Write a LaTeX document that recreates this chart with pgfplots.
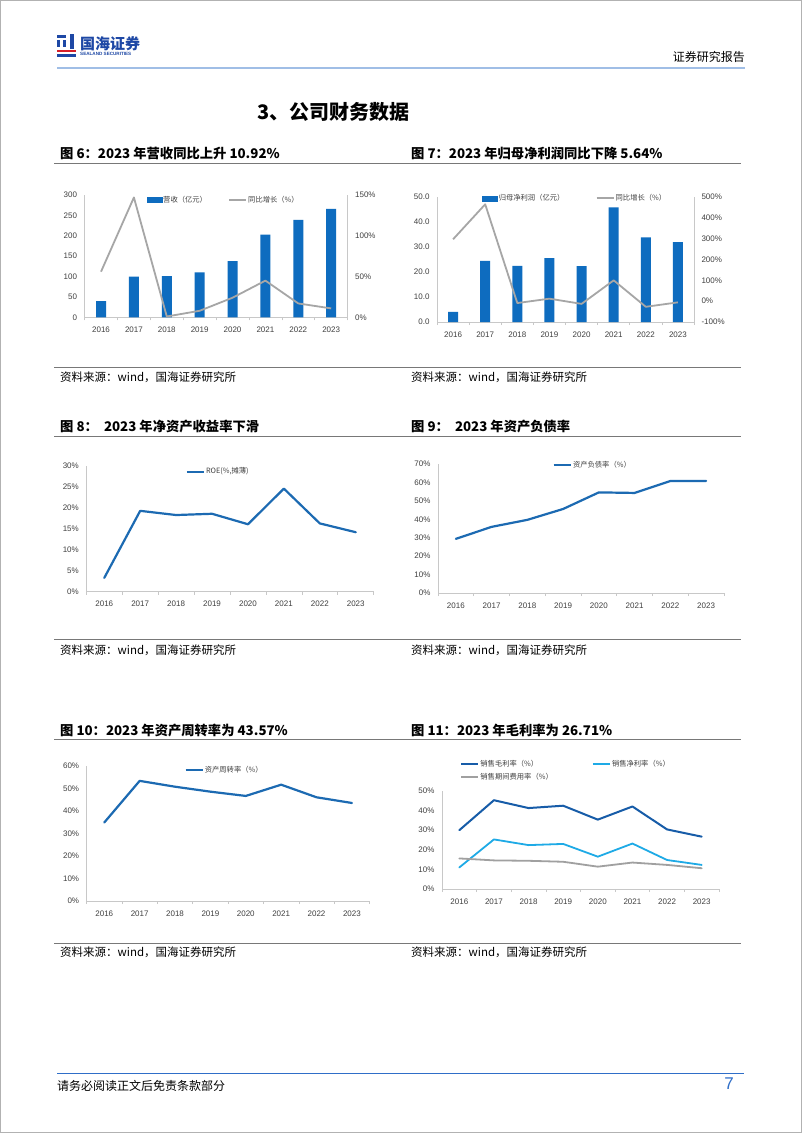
\documentclass[border=0pt]{standalone}
\usepackage{pgfplots}
\pgfplotsset{compat=1.18}
\usepackage{fontspec}
\setmainfont{Liberation Sans}
\newfontfamily\cjk{Noto Sans CJK SC}
\definecolor{barblue}{RGB}{14,108,191}
\definecolor{growthgrey}{RGB}{166,166,166}
\definecolor{lineblue}{RGB}{28,106,178}
\definecolor{grossblue}{RGB}{23,92,168}
\definecolor{netblue}{RGB}{30,170,230}
\definecolor{expgrey}{RGB}{160,160,160}
\definecolor{axisgray}{RGB}{200,200,200}
\definecolor{ticktext}{RGB}{64,64,64}
\definecolor{rulegray}{RGB}{120,120,120}
\definecolor{headerblue}{RGB}{160,190,230}
\definecolor{footblue}{RGB}{47,110,200}
\definecolor{logoblue}{RGB}{30,72,165}
\definecolor{logored}{RGB}{215,30,40}
\pgfplotsset{
  pagechart/.style={
    scale only axis, anchor=south west,
    xmin=-0.5, xmax=7.5,
    xtick={0,1,2,3,4,5,6,7},
    xticklabels={2016,2017,2018,2019,2020,2021,2022,2023},
    tick align=outside, major tick length=0pt, minor tick length=3pt,
    every tick/.style={axisgray, line width=0.6pt},
    axis line style={axisgray, line width=0.8pt},
    axis x line*=bottom, axis y line*=left,
    ytick style={draw=none},
    font=\fontsize{8}{9.5}\selectfont,
    ticklabel style={text=ticktext},
    xticklabel style={yshift=-6pt},
    yticklabel style={xshift=-4pt},
    /pgf/number format/assume math mode=true,
    /pgf/number format/1000 sep={},
    legend style={draw=none, fill=none, inner sep=0pt, font=\cjk\fontsize{7.3}{8}\selectfont, text=ticktext, cells={anchor=west}, nodes={inner sep=1.2pt}},
    legend image code/.code={\draw[#1, line cap=butt] (0pt,0pt) -- (17pt,0pt);},
  },
  rightaxis/.style={axis x line=none, axis y line*=right, xtick=\empty, yticklabel style={xshift=8pt}},
  catticks/.style={minor xtick={-0.5,0.5,1.5,2.5,3.5,4.5,5.5,6.5,7.5}},
  pct/.style={yticklabel={\pgfmathprintnumber{\tick}\%}},
  barleg/.style={legend image code/.code={\fill[barblue] (0pt,-2.5pt) rectangle (15pt,2.5pt);}},
  serline/.style={line width=2.2pt, line join=round, line cap=round},
}
\begin{document}
\begin{tikzpicture}
\useasboundingbox (0,0) rectangle (802pt,-1133pt);
\fill[white] (0,0) rectangle (802pt,-1133pt);
\draw[gray!60, line width=1pt] (0.5pt,-0.5pt) rectangle (801.5pt,-1132.5pt);
% header
\fill[logoblue] (57pt,-35pt) rectangle (66pt,-38pt);
\fill[logoblue] (57pt,-40pt) rectangle (60pt,-47pt);
\fill[logoblue] (63pt,-40pt) rectangle (66pt,-47pt);
\fill[logoblue] (70pt,-34pt) rectangle (73.5pt,-49pt);
\fill[logored] (57pt,-49.5pt) rectangle (76pt,-52pt);
\fill[logoblue] (57pt,-53.5pt) rectangle (76pt,-56.5pt);
\node[anchor=west, inner sep=0, text=logoblue] at (80pt,-44pt) {\cjk\bfseries\fontsize{15}{15}\selectfont 国海证券};
\node[anchor=west, inner sep=0, text=logoblue] at (80pt,-54pt) {\bfseries\fontsize{4.6}{5}\selectfont SEALAND SECURITIES};
\node[anchor=east, inner sep=0] at (745pt,-57pt) {\cjk\fontsize{12}{12}\selectfont 证券研究报告};
\draw[headerblue, line width=2pt] (57pt,-68pt) -- (745pt,-68pt);
\node[anchor=west, inner sep=0] at (257pt,-112pt) {\cjk\bfseries\fontsize{20}{20}\selectfont 3、公司财务数据};
% figure titles
\foreach \x/\y/\t in {60/153/{图 6：2023 年营收同比上升 10.92\%}, 411/153/{图 7：2023 年归母净利润同比下降 5.64\%}, 60/426/{图 8：\ \ 2023 年净资产收益率下滑}, 411/426/{图 9：\ \ 2023 年资产负债率}, 60/730/{图 10：2023 年资产周转率为 43.57\%}, 411/730/{图 11：2023 年毛利率为 26.71\%}}
  \node[anchor=west, inner sep=0] at (\x pt,-\y pt) {\cjk\bfseries\fontsize{13.3}{13.3}\selectfont \t};
\foreach \y in {163.5,436.5,739,367,639,943}
  \draw[rulegray, line width=1pt] (54pt,-\y pt) -- (741pt,-\y pt);
\foreach \x/\y in {60/377.5,411/377.5,60/650,411/650,60/952.5,411/952.5}
  \node[anchor=west, inner sep=0] at (\x pt,-\y pt) {\cjk\fontsize{11.5}{12}\selectfont 资料来源：wind，国海证券研究所};
% footer
\draw[footblue, line width=1pt] (57pt,-1073.5pt) -- (744pt,-1073.5pt);
\node[anchor=west, inner sep=0] at (57pt,-1086pt) {\cjk\fontsize{12}{12}\selectfont 请务必阅读正文后免责条款部分};
\node[inner sep=0, text=footblue] at (729pt,-1084pt) {\fontsize{17}{17}\selectfont 7};

% ---- Chart 1
\begin{axis}[pagechart, catticks, at={(84.6pt,-317.3pt)}, width=263pt, height=122.3pt,
  ymin=0, ymax=300, ytick={0,50,100,150,200,250,300}]
\addplot[ybar, bar width=10pt, fill=barblue, draw=none] coordinates {(0,40)(1,100)(2,101)(3,110)(4,138)(5,203)(6,239)(7,266)};
\end{axis}
\begin{axis}[pagechart, rightaxis, at={(84.6pt,-317.3pt)}, width=263pt, height=122.3pt,
  ymin=0, ymax=150, ytick={0,50,100,150}, pct,
  legend style={at={(0.235,0.96)}, anchor=west, legend columns=2, /tikz/every even column/.append style={column sep=20pt}}]
\addlegendimage{barleg}
\addlegendentry{营收（亿元）}
\addplot[growthgrey, line width=1.8pt, line join=round] coordinates {(0,56)(1,147)(2,1)(3,8)(4,24)(5,45)(6,17)(7,10.92)};
\addlegendentry{同比增长（\%）}
\end{axis}

% ---- Chart 2
\begin{axis}[pagechart, catticks, at={(437pt,-322pt)}, width=257pt, height=125pt,
  ymin=0, ymax=50, ytick={0,10,20,30,40,50},
  yticklabel style={/pgf/number format/.cd, fixed, fixed zerofill, precision=1}]
\addplot[ybar, bar width=10pt, fill=barblue, draw=none] coordinates {(0,4.1)(1,24.5)(2,22.5)(3,25.6)(4,22.4)(5,45.9)(6,33.9)(7,32.0)};
\end{axis}
\begin{axis}[pagechart, rightaxis, at={(437pt,-322pt)}, width=257pt, height=125pt,
  ymin=-100, ymax=500, ytick={-100,0,100,200,300,400,500}, pct,
  legend style={at={(0.175,0.99)}, anchor=west, legend columns=2, /tikz/every even column/.append style={column sep=30pt}}]
\addlegendimage{barleg}
\addlegendentry{归母净利润（亿元）}
\addplot[growthgrey, line width=1.8pt, line join=round] coordinates {(0,297)(1,465)(2,-9)(3,12)(4,-13)(5,100)(6,-27)(7,-5.64)};
\addlegendentry{同比增长（\%）}
\end{axis}

% ---- Chart 3
\begin{axis}[pagechart, catticks, at={(86.3pt,-591.7pt)}, width=287.4pt, height=125.7pt,
  ymin=0, ymax=30, ytick={0,5,10,15,20,25,30}, pct,
  legend style={at={(0.345,0.955)}, anchor=west}]
\addplot[lineblue, serline] coordinates {(0,3.3)(1,19.3)(2,18.3)(3,18.6)(4,16.1)(5,24.6)(6,16.3)(7,14.2)};
\addlegendentry{ROE(\%,摊薄)}
\end{axis}

% ---- Chart 4
\begin{axis}[pagechart, catticks, at={(438pt,-593pt)}, width=286pt, height=129pt,
  ymin=0, ymax=70, ytick={0,10,20,30,40,50,60,70}, pct,
  legend style={at={(0.4,0.99)}, anchor=west}]
\addplot[lineblue, serline] coordinates {(0,29.4)(1,35.9)(2,39.7)(3,45.6)(4,54.6)(5,54.3)(6,60.8)(7,60.8)};
\addlegendentry{资产负债率（\%）}
\end{axis}

% ---- Chart 5
\begin{axis}[pagechart, catticks, at={(86.6pt,-901pt)}, width=283pt, height=135pt,
  ymin=0, ymax=60, ytick={0,10,20,30,40,50,60}, pct,
  legend style={at={(0.345,0.97)}, anchor=west}]
\addplot[lineblue, serline] coordinates {(0,34.9)(1,53.4)(2,50.8)(3,48.6)(4,46.7)(5,51.7)(6,46.1)(7,43.57)};
\addlegendentry{资产周转率（\%）}
\end{axis}

% ---- Chart 6
\begin{axis}[pagechart, catticks, at={(442pt,-889pt)}, width=277pt, height=98pt,
  ymin=0, ymax=50, ytick={0,10,20,30,40,50}, pct,
  legend style={at={(0.065,1.33)}, anchor=north west, legend columns=2, /tikz/every even column/.append style={column sep=38pt}, /tikz/row sep=3pt}]
\addplot[grossblue, serline, line width=2pt] coordinates {(0,30.0)(1,45.3)(2,41.3)(3,42.5)(4,35.4)(5,42.1)(6,30.4)(7,26.71)};
\addlegendentry{销售毛利率（\%）}
\addplot[netblue, serline, line width=1.8pt] coordinates {(0,11.0)(1,25.3)(2,22.4)(3,23.0)(4,16.5)(5,23.2)(6,14.8)(7,12.3)};
\addlegendentry{销售净利率（\%）}
\addplot[expgrey, serline, line width=1.8pt] coordinates {(0,15.6)(1,14.6)(2,14.4)(3,13.9)(4,11.4)(5,13.5)(6,12.3)(7,10.6)};
\addlegendentry{销售期间费用率（\%）}
\end{axis}
\end{tikzpicture}
\end{document}
